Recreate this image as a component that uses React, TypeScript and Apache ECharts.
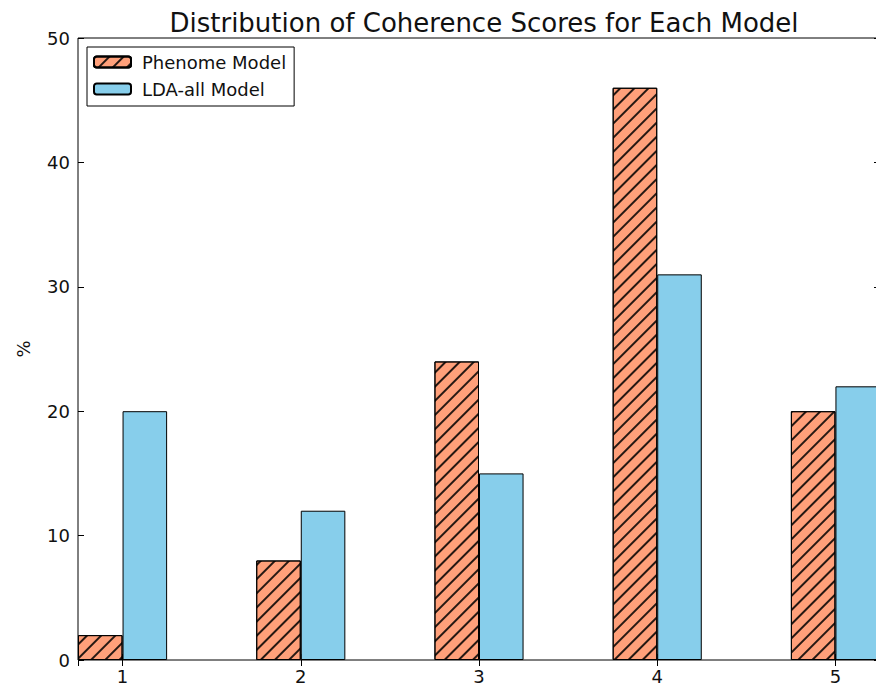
import React, { useEffect, useRef } from "react";
import * as echarts from "echarts";

const categories = [1, 2, 3, 4, 5];
const phenomeValues = [2, 8, 24, 46, 20];
const ldaValues = [20, 12, 15, 31, 22];
const yTicks = [0, 10, 20, 30, 40, 50];
const seriesNames = ["Phenome Model", "LDA-all Model"];

const FONT = "DejaVu Sans";
const X_MIN = 0.75;
const X_MAX = 5.25;
const BAR_UNITS = 0.25;
const GRID_LEFT = 78;
const GRID_WIDTH = 802;
const GRID_TOP = 38;
const GRID_HEIGHT = 622;
const W = 876;
const H = 690;

export default function App() {
  const ref = useRef<HTMLDivElement>(null);
  useEffect(() => {
    if (!ref.current) return;
    const chart = echarts.init(ref.current, undefined, { renderer: "svg" });
    const pxPerUnit = GRID_WIDTH / (X_MAX - X_MIN);
    const barW = BAR_UNITS * pxPerUnit;
    const hatch = {
      symbol: "rect",
      symbolSize: 1,
      dashArrayX: [1, 0],
      dashArrayY: [1.1, 7.6],
      rotation: -Math.PI / 4,
      color: "rgba(0,0,0,0.85)",
    };
    const tickCommon = { inside: true, length: 6, lineStyle: { color: "#000", width: 1 } };
    const option: any = {
      animation: false,
      backgroundColor: "#fff",
      title: {
        text: "Distribution of Coherence Scores for Each Model",
        left: GRID_LEFT + GRID_WIDTH / 2,
        textAlign: "center",
        top: 5,
        textStyle: { fontFamily: FONT, fontSize: 26, fontWeight: "normal", color: "#111" },
      },
      legend: {
        orient: "vertical",
        left: 87,
        top: 47,
        padding: [6, 8, 8, 6],
        itemGap: 9,
        itemWidth: 37,
        itemHeight: 11,
        borderColor: "#000",
        borderWidth: 1,
        backgroundColor: "#fff",
        textStyle: { fontFamily: FONT, fontSize: 18, color: "#111", padding: [0, 0, 0, 6] },
        data: seriesNames,
      },
      grid: {
        left: GRID_LEFT,
        width: GRID_WIDTH,
        top: GRID_TOP,
        height: GRID_HEIGHT,
        outerBoundsMode: "none",
        containLabel: false,
        show: true,
        borderColor: "#000",
        borderWidth: 1,
        backgroundColor: "transparent",
      },
      xAxis: [
        {
          type: "value",
          min: X_MIN,
          max: X_MAX,
          minInterval: 1,
          maxInterval: 1,
          axisLine: { show: false },
          splitLine: { show: false },
          axisTick: tickCommon,
          axisLabel: {
            fontFamily: FONT,
            fontSize: 18,
            color: "#111",
            margin: 7,
            formatter: (v: number) => (categories.includes(v) ? String(v) : ""),
          },
        },
        {
          type: "value",
          position: "top",
          min: X_MIN,
          max: X_MAX,
          minInterval: 1,
          maxInterval: 1,
          axisLine: { show: false },
          splitLine: { show: false },
          axisTick: tickCommon,
          axisLabel: { show: false },
        },
      ],
      yAxis: [
        {
          type: "value",
          min: yTicks[0],
          max: yTicks[yTicks.length - 1],
          interval: yTicks[1] - yTicks[0],
          name: "%",
          nameLocation: "middle",
          nameGap: 46,
          nameRotate: 90,
          nameTextStyle: { fontFamily: FONT, fontSize: 18, color: "#111" },
          axisLine: { show: false },
          splitLine: { show: false },
          axisTick: tickCommon,
          axisLabel: { fontFamily: FONT, fontSize: 18, color: "#111", margin: 8 },
        },
        {
          type: "value",
          position: "right",
          min: yTicks[0],
          max: yTicks[yTicks.length - 1],
          interval: yTicks[1] - yTicks[0],
          axisLine: { show: false },
          splitLine: { show: false },
          axisTick: tickCommon,
          axisLabel: { show: false },
        },
      ],
      series: [
        {
          name: seriesNames[0],
          type: "bar",
          barWidth: barW,
          barGap: "-100%",
          data: categories.map((c, i) => [c - BAR_UNITS / 2, phenomeValues[i]]),
          itemStyle: { color: "#FFA07A", borderColor: "#000", borderWidth: 1, decal: hatch },
        },
        {
          name: seriesNames[1],
          type: "bar",
          barWidth: barW,
          barGap: "-100%",
          data: categories.map((c, i) => [c + BAR_UNITS / 2, ldaValues[i]]),
          itemStyle: { color: "#87CEEB", borderColor: "#000", borderWidth: 1 },
        },
      ],
    };
    chart.setOption(option);
    return () => chart.dispose();
  }, []);
  return (
    <div
      ref={ref}
      style={{ position: "fixed", left: 0, top: 0, width: W, height: H, background: "#fff" }}
    />
  );
}
